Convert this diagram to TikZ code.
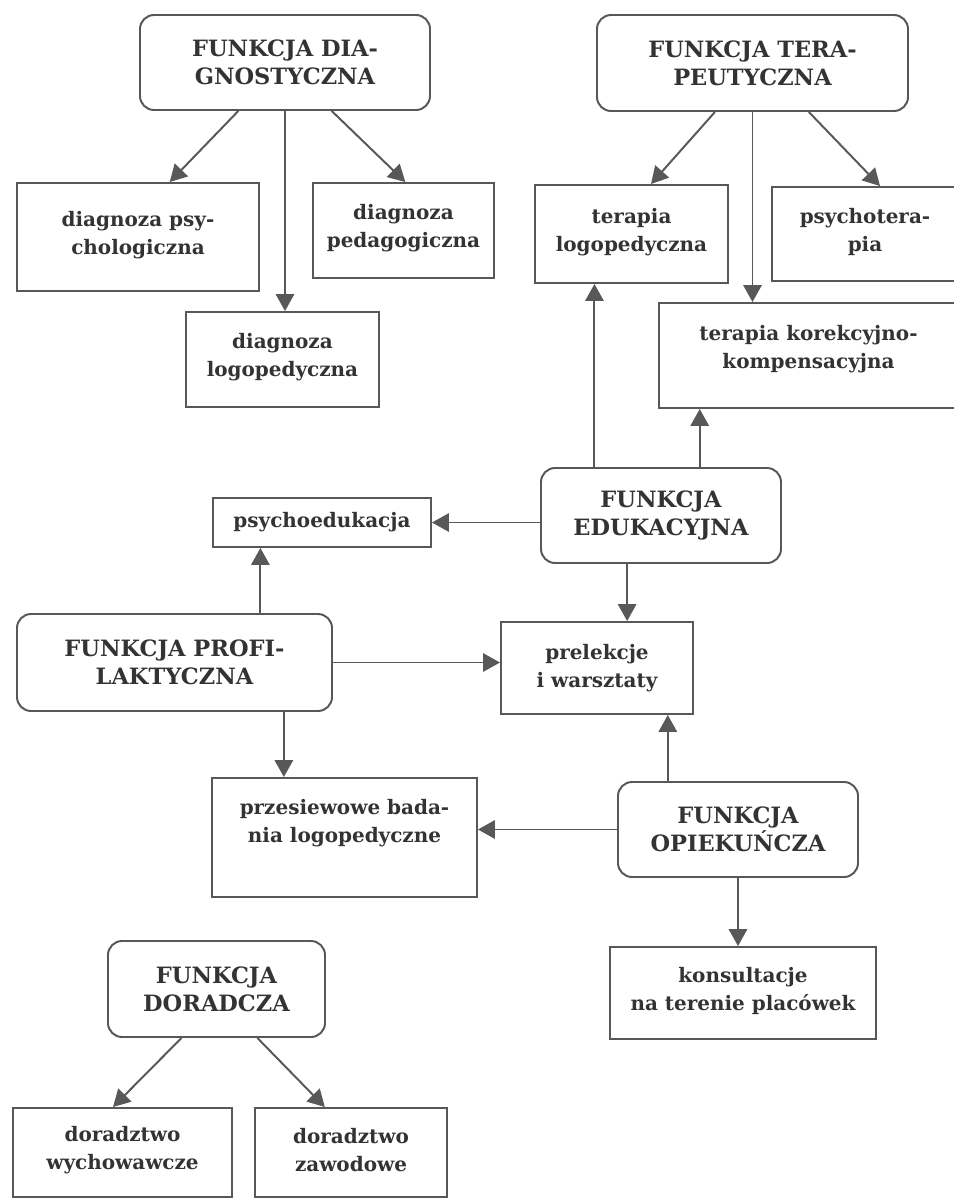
\documentclass[tikz,border=0pt]{standalone}
\usepackage{fontspec}
\setmainfont{DejaVu Serif}
\usepackage{tikz}
\usetikzlibrary{calc,arrows.meta}

\definecolor{inkgray}{HTML}{333333}
\definecolor{linegray}{HTML}{585858}

\begin{document}
\begin{tikzpicture}[x=0.025cm, y=-0.025cm,
    boxsize/.style 2 args={minimum width=#1*0.025cm, minimum height=#2*0.025cm},
    txt/.style={font=\bfseries\fontsize{14.2}{20}\selectfont, text=inkgray, align=center, inner sep=0pt},
    func/.style={txt, font=\bfseries\fontsize{16}{20}\selectfont, draw=linegray, line width=1.4pt, rounded corners=10pt},
    task/.style={txt, draw=linegray, line width=1.4pt, text depth=6pt},
    arr/.style={draw=linegray, line width=1.4pt, -{Triangle[length=12pt,width=13pt]}}]

    \useasboundingbox (0,0) rectangle (954,1199);
    \clip (0,0) rectangle (954,1199);

    % main functions
    \node[func, boxsize={290}{95}] (diag) at (285,62.5) {FUNKCJA DIA-\\GNOSTYCZNA};
    \node[func, boxsize={311}{96}] (terap) at (752.5,63) {FUNKCJA TERA-\\PEUTYCZNA};
    \node[func, boxsize={240}{95}] (edu) at (661,515.5) {FUNKCJA\\EDUKACYJNA};
    \node[func, boxsize={315}{97}] (prof) at (174.5,662.5) {FUNKCJA PROFI-\\LAKTYCZNA};
    \node[func, boxsize={240}{95}] (opiek) at (738,829.5) {FUNKCJA\\OPIEKUŃCZA};
    \node[func, boxsize={217}{96}] (dor) at (216.5,989) {FUNKCJA\\DORADCZA};

    % tasks (text depth lifts the text towards the top edge)
    \node[task, boxsize={242}{108}] (psych) at (138,237) {diagnoza psy-\\chologiczna};
    \node[task, boxsize={181}{95}] (pedag) at (403.5,230.5) {diagnoza\\pedagogiczna};
    \node[task, boxsize={193}{95}] (dlogo) at (282.5,359.5) {diagnoza\\logopedyczna};
    \node[task, boxsize={193}{98}] (tlogo) at (631.5,234) {terapia\\logopedyczna};
    \node[task, boxsize={186}{94}] (psyter) at (865,234) {psychotera-\\pia};
    \node[task, boxsize={299}{105}, text depth=12pt] (korek) at (808.5,355.5) {terapia korekcyjno-\\kompensacyjna};
    \node[task, boxsize={218}{49}, text depth=3pt] (psyedu) at (322,522.5) {psychoedukacja};
    \node[task, boxsize={192}{92}, text depth=3.5pt] (prel) at (597,668) {prelekcje\\i warsztaty};
    \node[task, boxsize={265}{119}, text depth=23pt] (przes) at (344.5,837.5) {przesiewowe bada-\\nia logopedyczne};
    \node[task, boxsize={266}{92}] (konsul) at (743,993) {konsultacje\\na terenie placówek};
    \node[task, boxsize={219}{89}] (dwych) at (122.5,1152.5) {doradztwo\\wychowawcze};
    \node[task, boxsize={192}{89}, text depth=4pt] (dzaw) at (351,1152.5) {doradztwo\\zawodowe};

    % diagnostic branch
    \draw[arr] ($(diag.south west)!0.34!(diag.south east)$) -- ($(psych.north west)!0.63!(psych.north east)$);
    \draw[arr] (diag.south) -- (diag.south |- dlogo.north);
    \draw[arr] ($(diag.south west)!0.66!(diag.south east)$) -- ($(pedag.north west)!0.51!(pedag.north east)$);

    % therapeutic branch
    \draw[arr] ($(terap.south west)!0.38!(terap.south east)$) -- ($(tlogo.north west)!0.6!(tlogo.north east)$);
    \draw[arr] (terap.south) -- (terap.south |- korek.north);
    \draw[arr] ($(terap.south west)!0.68!(terap.south east)$) -- ($(psyter.north west)!0.58!(psyter.north east)$);

    % educational branch
    \coordinate (e1) at ($(edu.north west)!0.225!(edu.north east)$);
    \coordinate (e2) at ($(edu.north west)!0.66!(edu.north east)$);
    \coordinate (e3) at ($(edu.south west)!0.36!(edu.south east)$);
    \draw[arr] (e1) -- (e1 |- tlogo.south);
    \draw[arr] (e2) -- (e2 |- korek.south);
    \draw[arr] (e3) -- (e3 |- prel.north);
    \draw[arr] (edu.west |- psyedu.east) -- (psyedu.east);

    % prophylactic branch
    \coordinate (p1) at ($(psyedu.south west)!0.22!(psyedu.south east)$);
    \coordinate (p2) at ($(prof.south west)!0.845!(prof.south east)$);
    \draw[arr] (prof.north -| p1) -- (p1);
    \draw[arr] (prof.east) -- (prof.east -| prel.west);
    \draw[arr] (p2) -- (p2 |- przes.north);

    % care branch
    \coordinate (o1) at ($(prel.south west)!0.865!(prel.south east)$);
    \draw[arr] (opiek.north -| o1) -- (o1);
    \draw[arr] (opiek.west) -- (opiek.west -| przes.east);
    \draw[arr] (opiek.south) -- (opiek.south |- konsul.north);

    % advisory branch
    \draw[arr] ($(dor.south west)!0.34!(dor.south east)$) -- ($(dwych.north west)!0.457!(dwych.north east)$);
    \draw[arr] ($(dor.south west)!0.687!(dor.south east)$) -- ($(dzaw.north west)!0.365!(dzaw.north east)$);

\end{tikzpicture}
\end{document}
